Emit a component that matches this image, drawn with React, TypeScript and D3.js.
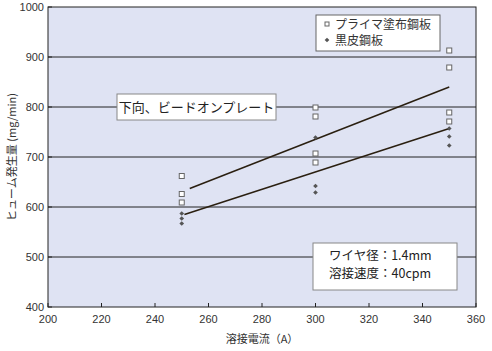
import * as d3 from "d3";

// welding current (A) and fume generation (mg/min)
const primerX = [250, 250, 250, 300, 300, 300, 300, 350, 350, 350, 350];
const primerY = [662, 626, 609, 799, 781, 707, 689, 913, 879, 789, 771];
const blackX = [250, 250, 250, 300, 300, 300, 350, 350, 350];
const blackY = [587, 577, 567, 739, 642, 629, 757, 741, 723];

// trend lines (start/end)
const primerTrendX = [253, 350];
const primerTrendY = [637, 840];
const blackTrendX = [251, 350];
const blackTrendY = [585, 757];

const xTicks = [200, 220, 240, 260, 280, 300, 320, 340, 360];
const yTicks = [400, 500, 600, 700, 800, 900, 1000];

const legendLabels = ["プライマ塗布鋼板", "黒皮鋼板"];
const noteLabel = "下向、ビードオンプレート";
const conditionLabels = ["ワイヤ径：1.4mm", "溶接速度：40cpm"];

const W = 492;
const H = 351;
const margin = { top: 7, right: 16, bottom: 44, left: 48 };
const jp = "'Noto Sans CJK JP', sans-serif";
const num = "'Liberation Sans', Arial, sans-serif";

export default function App() {
  const x = d3.scaleLinear().domain([200, 360]).range([margin.left, W - margin.right]);
  const y = d3.scaleLinear().domain([400, 1000]).range([H - margin.bottom, margin.top]);
  const innerW = x(360) - x(200);
  const innerH = y(400) - y(1000);

  const trend = (xs: number[], ys: number[]) =>
    d3.line<number>().x((d) => x(xs[d])).y((d) => y(ys[d]))(xs.map((_, i) => i)) || "";

  const diamond = d3.symbol(d3.symbolSquare, 11)() || "";
  const textCol = "#333";

  return (
    <svg
      width={W}
      height={H}
      style={{ position: "absolute", left: 0, top: 0, background: "#fff" }}
    >
      {/* plot background */}
      <rect x={x(200)} y={y(1000)} width={innerW} height={innerH} fill="#dfe3f3" />

      {/* grid */}
      {yTicks.slice(1, -1).map((t) => (
        <line key={t} x1={x(200)} x2={x(360)} y1={y(t)} y2={y(t)} stroke="#222" strokeWidth={1} />
      ))}

      {/* x ticks */}
      {xTicks.map((t) => (
        <g key={t}>
          <line x1={x(t)} x2={x(t)} y1={y(400)} y2={y(400) - 4} stroke="#222" />
          <text x={x(t)} y={y(400) + 16} textAnchor="middle" fontSize={11} fontFamily={num} fill={textCol}>
            {t}
          </text>
        </g>
      ))}

      {/* y ticks */}
      {yTicks.map((t) => (
        <g key={t}>
          <line x1={x(200)} x2={x(200) + 4} y1={y(t)} y2={y(t)} stroke="#222" />
          <text x={x(200) - 4} y={y(t) + 4} textAnchor="end" fontSize={11} fontFamily={num} fill={textCol}>
            {t}
          </text>
        </g>
      ))}

      {/* frame */}
      <rect x={x(200)} y={y(1000)} width={innerW} height={innerH} fill="none" stroke="#222" strokeWidth={1} />

      {/* trend lines */}
      <path d={trend(primerTrendX, primerTrendY)} stroke="#2a1f10" strokeWidth={1.5} fill="none" />
      <path d={trend(blackTrendX, blackTrendY)} stroke="#2a1f10" strokeWidth={1.5} fill="none" />

      {/* primer points */}
      {primerX.map((v, i) => (
        <rect
          key={"p" + i}
          x={x(v) - 2.5}
          y={y(primerY[i]) - 2.5}
          width={5}
          height={5}
          fill="#fff"
          stroke="#666"
          strokeWidth={1}
        />
      ))}

      {/* black skin points */}
      {blackX.map((v, i) => (
        <path
          key={"b" + i}
          d={diamond}
          transform={`translate(${x(v)},${y(blackY[i])}) rotate(45)`}
          fill="#555"
        />
      ))}

      {/* legend */}
      <rect x={316} y={15} width={124} height={36} fill="#fff" stroke="#666" />
      <rect x={325} y={22} width={4} height={4} fill="#fff" stroke="#666" />
      <text x={335} y={29} fontSize={12} fontFamily={jp} fill={textCol}>
        {legendLabels[0]}
      </text>
      <path d={diamond} transform="translate(327,40) rotate(45)" fill="#555" />
      <text x={335} y={45} fontSize={12} fontFamily={jp} fill={textCol}>
        {legendLabels[1]}
      </text>

      {/* welding position note */}
      <rect x={117} y={94} width={159} height={26} fill="#fff" stroke="#888" />
      <text x={196.5} y={112} textAnchor="middle" fontSize={13} fontFamily={jp} fill="#222">
        {noteLabel}
      </text>

      {/* conditions */}
      <rect x={313} y={243} width={144} height={47} fill="#fff" stroke="#888" />
      <text x={329} y={260} fontSize={12.5} fontFamily={jp} fill="#222">
        {conditionLabels[0]}
      </text>
      <text x={329} y={278} fontSize={12.5} fontFamily={jp} fill="#222">
        {conditionLabels[1]}
      </text>

      {/* axis titles */}
      <text x={x(280)} y={343} textAnchor="middle" fontSize={11} fontFamily={jp} fill={textCol}>
        溶接電流（A）
      </text>
      <text
        transform={`translate(16,${(y(400) + y(1000)) / 2}) rotate(-90)`}
        textAnchor="middle"
        fontSize={11}
        fontFamily={jp}
        fill={textCol}
      >
        ヒューム発生量 (mg/min)
      </text>
    </svg>
  );
}
